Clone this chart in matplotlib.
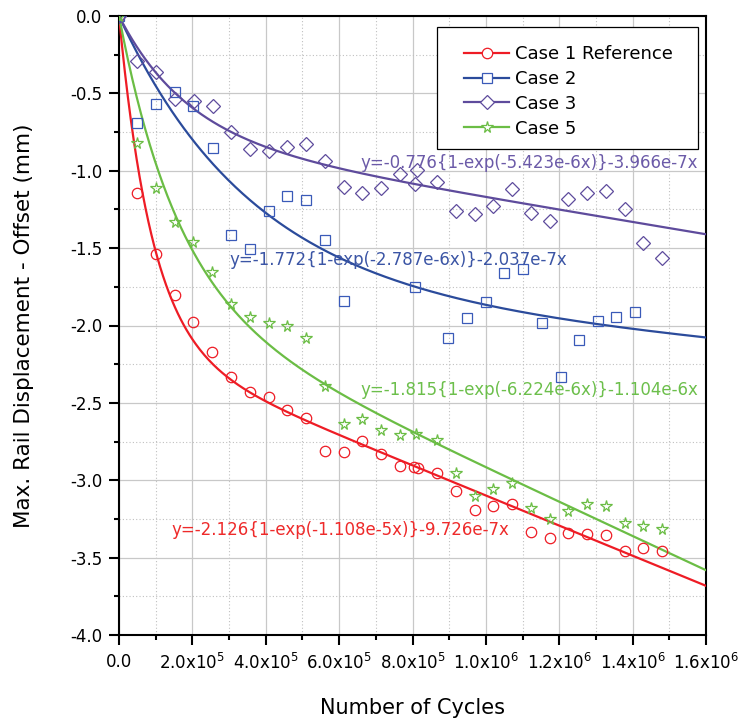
import numpy as np
import matplotlib.pyplot as plt
from matplotlib.lines import Line2D
from matplotlib.patches import Rectangle
from matplotlib.ticker import MultipleLocator

# measured points (cycles, max. rail displacement - offset in mm)
cycles_1 = [0, 0.048, 0.100, 0.153, 0.203, 0.254, 0.305, 0.356, 0.408, 0.459, 0.510,
            0.561, 0.612, 0.663, 0.714, 0.765, 0.803, 0.816, 0.868, 0.918, 0.969,
            1.020, 1.071, 1.123, 1.174, 1.225, 1.276, 1.327, 1.378, 1.429, 1.480]
disp_1 = [0, -1.146, -1.54, -1.80, -1.975, -2.17, -2.335, -2.43, -2.464, -2.544, -2.598,
          -2.811, -2.815, -2.744, -2.828, -2.908, -2.912, -2.918, -2.955, -3.071, -3.19,
          -3.168, -3.153, -3.334, -3.373, -3.343, -3.349, -3.352, -3.459, -3.436, -3.457]

cycles_2 = [0, 0.050, 0.100, 0.153, 0.203, 0.255, 0.305, 0.356, 0.408, 0.459, 0.510,
            0.561, 0.612, 0.808, 0.898, 0.948, 0.999, 1.050, 1.101, 1.152, 1.204,
            1.255, 1.305, 1.356, 1.407]
disp_2 = [0, -0.689, -0.569, -0.493, -0.58, -0.855, -1.415, -1.506, -1.26, -1.161, -1.191,
          -1.45, -1.84, -1.753, -2.079, -1.953, -1.846, -1.659, -1.633, -1.982, -2.331,
          -2.094, -1.971, -1.943, -1.911]

cycles_3 = [0, 0.048, 0.101, 0.153, 0.204, 0.255, 0.306, 0.356, 0.408, 0.459, 0.510,
            0.561, 0.612, 0.663, 0.714, 0.765, 0.807, 0.813, 0.868, 0.918, 0.969,
            1.020, 1.071, 1.123, 1.174, 1.225, 1.276, 1.327, 1.378, 1.429, 1.480]
disp_3 = [0, -0.291, -0.364, -0.536, -0.547, -0.58, -0.752, -0.859, -0.87, -0.845, -0.827,
          -0.937, -1.103, -1.146, -1.109, -1.021, -1.088, -0.995, -1.071, -1.26, -1.282,
          -1.226, -1.12, -1.275, -1.325, -1.183, -1.142, -1.133, -1.249, -1.469, -1.562]

cycles_5 = [0, 0.050, 0.100, 0.153, 0.203, 0.254, 0.305, 0.356, 0.408, 0.459, 0.510,
            0.561, 0.612, 0.663, 0.714, 0.765, 0.810, 0.868, 0.918, 0.969, 1.020,
            1.071, 1.123, 1.174, 1.225, 1.276, 1.327, 1.378, 1.429, 1.480]
disp_5 = [0, -0.819, -1.113, -1.331, -1.462, -1.656, -1.861, -1.943, -1.982, -2.003, -2.083,
          -2.391, -2.639, -2.606, -2.675, -2.71, -2.703, -2.74, -2.951, -3.102, -3.054,
          -3.02, -3.179, -3.252, -3.197, -3.153, -3.166, -3.274, -3.296, -3.317]

# fitted y = -a{1-exp(-b x)} - c x
fit_a = [2.126, 1.772, 0.776, 1.815]
fit_b = [1.108e-5, 2.787e-6, 5.423e-6, 6.224e-6]
fit_c = [9.726e-7, 2.037e-7, 3.966e-7, 1.104e-6]

labels = ["Case 1 Reference", "Case 2", "Case 3", "Case 5"]
eq_text = ["y=-2.126{1-exp(-1.108e-5x)}-9.726e-7x",
           "y=-1.772{1-exp(-2.787e-6x)}-2.037e-7x",
           "y=-0.776{1-exp(-5.423e-6x)}-3.966e-7x",
           "y=-1.815{1-exp(-6.224e-6x)}-1.104e-6x"]
eq_pos = [(0.142e6, -3.32), (0.300e6, -1.577), (0.657e6, -0.95), (0.657e6, -2.417)]

colors = ["#ee1c25", "#2b4b9b", "#5e4b9c", "#6bbd45"]
mcolors = ["#ee1c25", "#3a5ab8", "#5e4b9c", "#6bbd45"]
tcolors = ["#ee2a2a", "#3b55a5", "#6b5aa8", "#6cbf4b"]
markers = ["o", "s", "D", "*"]
msizes = [7.5, 6.5, 7.0, 8.5]

xs = [cycles_1, cycles_2, cycles_3, cycles_5]
ys = [disp_1, disp_2, disp_3, disp_5]

W, H = 742, 719
x0, x1, y0, y1 = 119, 706, 16, 635   # axes box in pixels

fig = plt.figure(figsize=(W / 100, H / 100), dpi=100)
ax = fig.add_axes([x0 / W, 1 - y1 / H, (x1 - x0) / W, (y1 - y0) / H])

def ax_xy(px, py):
    return (px - x0) / (x1 - x0), 1 - (py - y0) / (y1 - y0)

xf = np.linspace(0, 1.6e6, 400)
handles = []
for i in range(4):
    yf = -fit_a[i] * (1 - np.exp(-fit_b[i] * xf)) - fit_c[i] * xf
    ax.plot(xf, yf, color=colors[i], lw=1.6, zorder=3)
    ax.plot(np.array(xs[i]) * 1e6, ys[i], ls="none", marker=markers[i], ms=msizes[i],
            mfc="none", mec=mcolors[i], mew=0.9, zorder=4)
    ax.text(eq_pos[i][0], eq_pos[i][1], eq_text[i], color=tcolors[i], fontsize=12,
            ha="left", va="center", zorder=5)
    handles.append(Line2D([], [], color=colors[i], lw=1.6, marker=markers[i], ms=msizes[i],
                          mfc="white", mec=mcolors[i], mew=0.9))

ax.set_xlim(0, 1.6e6)
ax.set_ylim(-4.0, 0.0)
ax.xaxis.set_minor_locator(MultipleLocator(1e5))
ax.yaxis.set_major_locator(MultipleLocator(0.5))
ax.yaxis.set_minor_locator(MultipleLocator(0.25))

xt = np.arange(0, 1.61e6, 2e5)
xlabs = ["0.0"]
for v in xt[1:]:
    e = int(np.floor(np.log10(v)))
    xlabs.append(r"%.1fx10$^{%d}$" % (v / 10 ** e, e))
ax.set_xticks(xt)
ax.set_xticklabels(xlabs)
ax.set_yticklabels(["%.1f" % v for v in ax.get_yticks()])

ax.grid(which="major", color="#c8c8c8", lw=0.9, ls="-", zorder=0)
ax.grid(which="minor", color="#c0c0c0", lw=0.8, ls=(0, (1, 2)), zorder=0)
ax.set_axisbelow(True)

ax.tick_params(which="major", direction="out", length=7.2, width=1.5, labelsize=12,
               top=False, right=False)
ax.tick_params(which="minor", direction="out", length=3.6, width=1.5, top=False, right=False)
ax.tick_params(axis="y", pad=5)
ax.tick_params(axis="x", pad=6)
for s in ax.spines.values():
    s.set_linewidth(1.5)

ax.set_xlabel("Number of Cycles", fontsize=15)
ax.xaxis.set_label_coords(0.5, -0.118)
ax.xaxis.label.set_verticalalignment("center")
ax.set_ylabel("Max. Rail Displacement - Offset (mm)", fontsize=15.5)
ax.yaxis.set_label_coords((24 - x0) / (x1 - x0), 0.5)
ax.yaxis.label.set_verticalalignment("center")

# legend frame drawn separately (wide side padding, tight top/bottom)
fx0, fy0 = ax_xy(437, 149)
fx1, fy1 = ax_xy(698, 27)
ax.add_patch(Rectangle((fx0, fy0), fx1 - fx0, fy1 - fy0, transform=ax.transAxes,
                       fc="white", ec="black", lw=0.9, zorder=6))
leg = ax.legend(handles, labels, loc="upper left", bbox_to_anchor=ax_xy(464, 45),
                borderaxespad=0, borderpad=0, fontsize=13, handlelength=2.5,
                handletextpad=0.33, labelspacing=0.38, frameon=False)
leg.set_zorder(7)

fig.savefig("out.png", dpi=100)
